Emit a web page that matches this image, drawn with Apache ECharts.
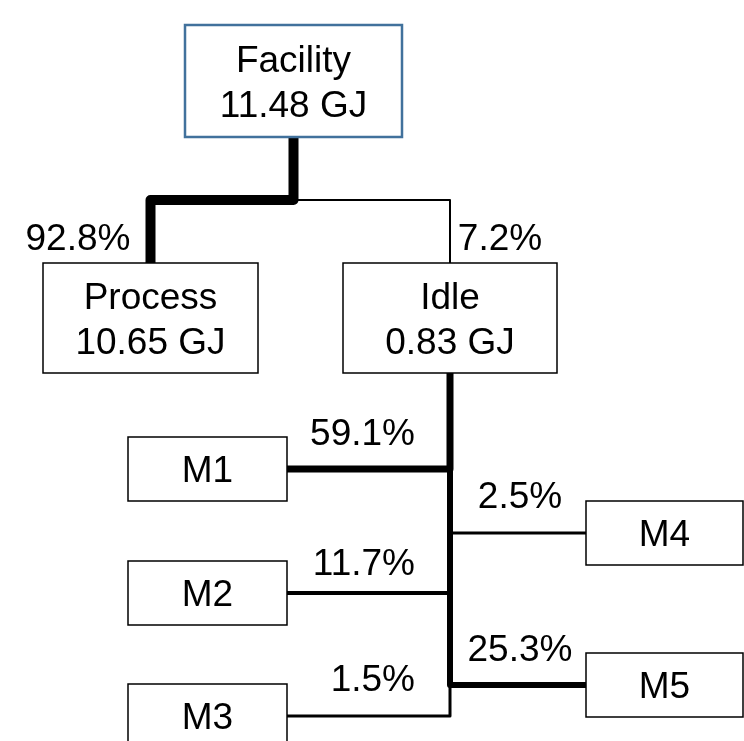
<!DOCTYPE html>
<html>
<head>
<meta charset="utf-8">
<script src="https://cdn.jsdelivr.net/npm/echarts@6/dist/echarts.min.js"></script>
<style>
  html, body { margin: 0; padding: 0; background: #fff; }
  #chart { width: 744px; height: 741px; }
</style>
</head>
<body>
<div id="chart"></div>
<script>
// energy breakdown: facility -> process / idle -> machines
const nodeNames = ['Facility', 'Process', 'Idle', 'M1', 'M2', 'M3', 'M4', 'M5'];
const nodeEnergyGJ = [11.48, 10.65, 0.83, null, null, null, null, null];
const linkFrom = ['Facility', 'Facility', 'Idle', 'Idle', 'Idle', 'Idle', 'Idle'];
const linkTo = ['Process', 'Idle', 'M1', 'M2', 'M3', 'M4', 'M5'];
const linkShare = [92.8, 7.2, 59.1, 11.7, 1.5, 2.5, 25.3];

// layout (axis units, the hidden axes span the canvas)
const boxLayout = {
  Facility: { cx: 293.5, cy: 81, w: 217, h: 112 },
  Process: { cx: 150.5, cy: 318, w: 215, h: 110 },
  Idle: { cx: 450, cy: 318, w: 214, h: 110 },
  M1: { cx: 207.5, cy: 469, w: 159, h: 64 },
  M2: { cx: 207.5, cy: 593, w: 159, h: 64 },
  M3: { cx: 207.5, cy: 716, w: 159, h: 64 },
  M4: { cx: 664.5, cy: 533, w: 157, h: 64 },
  M5: { cx: 664.5, cy: 685, w: 157, h: 64 }
};
// how each link is routed, its stroke and where its label sits
const linkLayout = [
  { route: 'down', busY: 200, width: 10, lx: 78, ly: 237, align: 'center' },
  { route: 'down', busY: 200, width: 2, lx: 500, ly: 237, align: 'center' },
  { route: 'side', width: 7, lx: 415, ly: 432, align: 'right' },
  { route: 'side', width: 4, lx: 415, ly: 562, align: 'right' },
  { route: 'side', width: 3, lx: 415, ly: 678, align: 'right' },
  { route: 'side', width: 3, lx: 520, ly: 495, align: 'center' },
  { route: 'side', width: 6, lx: 520, ly: 648, align: 'center' }
];
const FONT = '37px "Liberation Sans", Arial, sans-serif';
const TEXT_DY = 3; // nudge so cap height sits centred like the original

function routePoints(i) {
  const p = boxLayout[linkFrom[i]];
  const c = boxLayout[linkTo[i]];
  const L = linkLayout[i];
  const x0 = p.cx, y0 = p.cy + p.h / 2;
  if (L.route === 'down') {
    return [[x0, y0], [x0, L.busY], [c.cx, L.busY], [c.cx, c.cy - c.h / 2]];
  }
  const edge = c.cx < x0 ? c.cx + c.w / 2 : c.cx - c.w / 2;
  return [[x0, y0], [x0, c.cy], [edge, c.cy]];
}

const chart = echarts.init(document.getElementById('chart'));

chart.setOption({
  backgroundColor: '#fff',
  animation: false,
  grid: { left: 0, right: 0, top: 0, bottom: 0 },
  xAxis: { type: 'value', min: 0, max: 744, show: false },
  yAxis: { type: 'value', min: 0, max: 741, inverse: true, show: false },
  series: [
    {
      type: 'custom',
      name: 'links',
      data: linkShare.map((v, i) => ({ value: [boxLayout[linkTo[i]].cx, boxLayout[linkTo[i]].cy, v] })),
      renderItem: (params, api) => {
        const i = params.dataIndex;
        const L = linkLayout[i];
        const pts = routePoints(i).map(p => api.coord(p));
        const lp = api.coord([L.lx, L.ly]);
        return {
          type: 'group',
          children: [
            {
              type: 'polyline',
              shape: { points: pts },
              style: { stroke: '#000', lineWidth: L.width, fill: null, lineJoin: 'round' }
            },
            {
              type: 'text',
              style: {
                text: api.value(2).toFixed(1) + '%',
                x: lp[0], y: lp[1] + TEXT_DY,
                align: L.align, verticalAlign: 'middle',
                font: FONT, fill: '#000'
              }
            }
          ]
        };
      }
    },
    {
      type: 'custom',
      name: 'nodes',
      data: nodeNames.map((n, i) => {
        const b = boxLayout[n];
        return { name: n, value: [b.cx, b.cy, b.w, b.h, nodeEnergyGJ[i]] };
      }),
      renderItem: (params, api) => {
        const i = params.dataIndex;
        const c = api.coord([api.value(0), api.value(1)]);
        const s = api.size([api.value(2), api.value(3)]);
        const gj = nodeEnergyGJ[i];
        const top = i === 0;
        return {
          type: 'group',
          children: [
            {
              type: 'rect',
              shape: { x: c[0] - s[0] / 2, y: c[1] - s[1] / 2, width: s[0], height: s[1] },
              style: { fill: '#fff', stroke: top ? '#41719c' : '#000', lineWidth: top ? 2.5 : 1.5 }
            },
            {
              type: 'text',
              style: {
                text: nodeNames[i] + (gj != null ? '\n' + gj.toFixed(2) + ' GJ' : ''),
                x: c[0], y: c[1] + TEXT_DY,
                align: 'center', verticalAlign: 'middle',
                font: FONT, lineHeight: 45, fill: '#000'
              }
            }
          ]
        };
      }
    }
  ]
});
</script>
</body>
</html>
